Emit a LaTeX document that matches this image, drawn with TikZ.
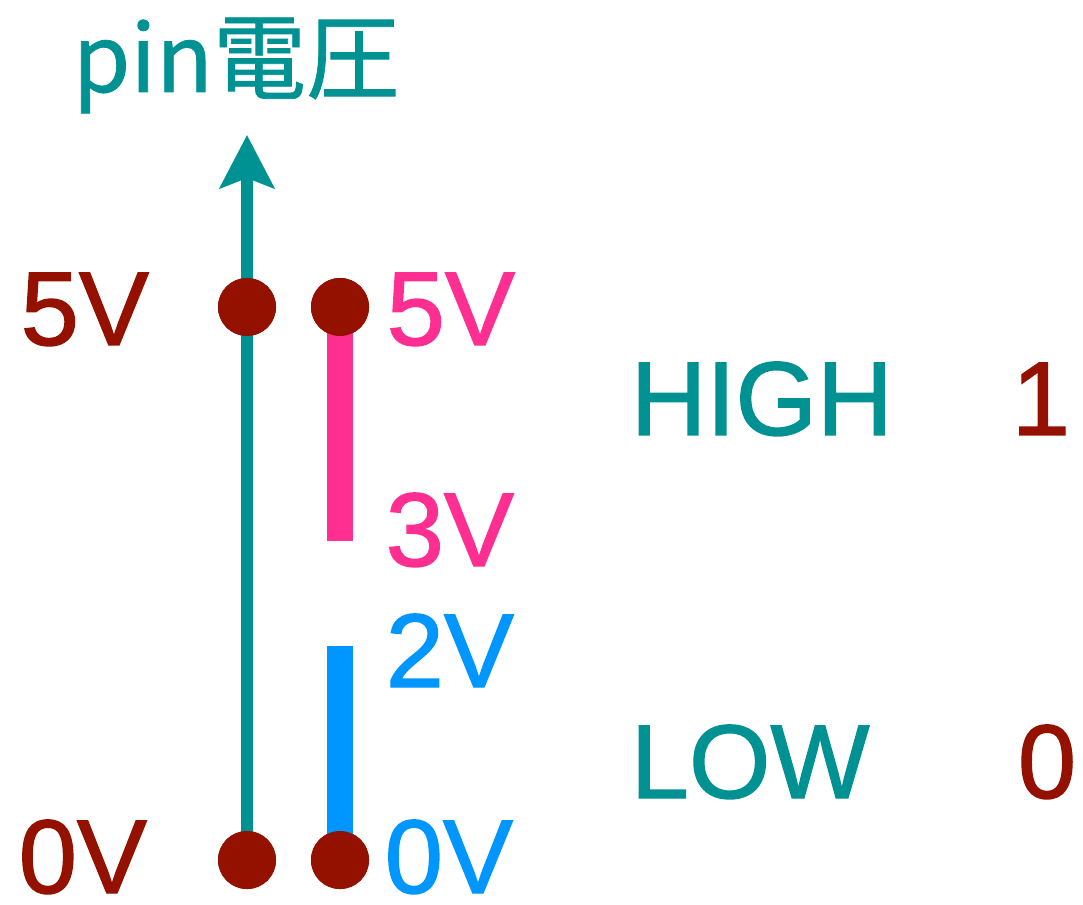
\documentclass[tikz,border=0pt]{standalone}
\usepackage{fontspec}
\setmainfont[FakeBold=1.3]{Liberation Sans}
\newfontfamily\cjk[FakeBold=0.8]{Noto Sans CJK JP}
\usetikzlibrary{arrows.meta}
\definecolor{teal1}{RGB}{0,145,147}
\definecolor{cay}{RGB}{148,17,0}
\definecolor{straw}{RGB}{255,47,146}
\definecolor{aqua}{RGB}{0,150,255}
\tikzset{
  dot/.style={circle,fill=cay,inner sep=0pt,minimum size=0.58cm},
  axisline/.style={draw=teal1,line width=0.12cm,-{Stealth[length=0.53cm,width=0.54cm,inset=0.1cm]}},
  bar/.style={line width=0.26cm,line cap=butt},
  lbl/.style={inner sep=0pt,anchor=base west,font=\fontsize{29.8}{32}\selectfont},
}
\begin{document}
\begin{tikzpicture}[x=0.01cm,y=-0.01cm]
\useasboundingbox (0,0) rectangle (1083,904);
% axis
\coordinate (top) at (247,135);
\coordinate (p3) at (340,541);
\coordinate (p2) at (340,646);
\node[dot] (d5a) at (247,307) {};
\node[dot] (d5b) at (340,307) {};
\node[dot] (d0a) at (247,860) {};
\node[dot] (d0b) at (340,860) {};
\draw[axisline] (d0a.center) -- (top);
\draw[bar,straw] (d5b.center) -- (p3);
\draw[bar,aqua] (p2) -- (d0b.center);
\node[dot] at (d5a) {};
\node[dot] at (d5b) {};
\node[dot] at (d0a) {};
\node[dot] at (d0b) {};
% title
\node[inner sep=0pt,anchor=base west,text=teal1,font=\cjk\fontsize{26.5}{30}\selectfont] (title) at (72,92) {pin電圧};
% left labels
\node[lbl,text=cay] (l5) at (20,345) {5V};
\node[lbl,text=cay] (l0) at (18,893) {0V};
% right labels
\node[lbl,text=straw] (r5) at (386,345) {5V};
\node[lbl,text=straw] (r3) at (385,566) {3V};
\node[lbl,text=aqua] (r2) at (385,687) {2V};
\node[lbl,text=aqua] (r0) at (384,893) {0V};
% HIGH / LOW
\node[lbl,text=teal1] (high) at (630,435) {HIGH};
\node[lbl,text=teal1] (low) at (630,798) {LOW};
\node[lbl,anchor=base,text=cay] (one) at (1041,435) {1};
\node[lbl,anchor=base,text=cay] (zero) at (1047,798) {0};
\end{tikzpicture}
\end{document}
